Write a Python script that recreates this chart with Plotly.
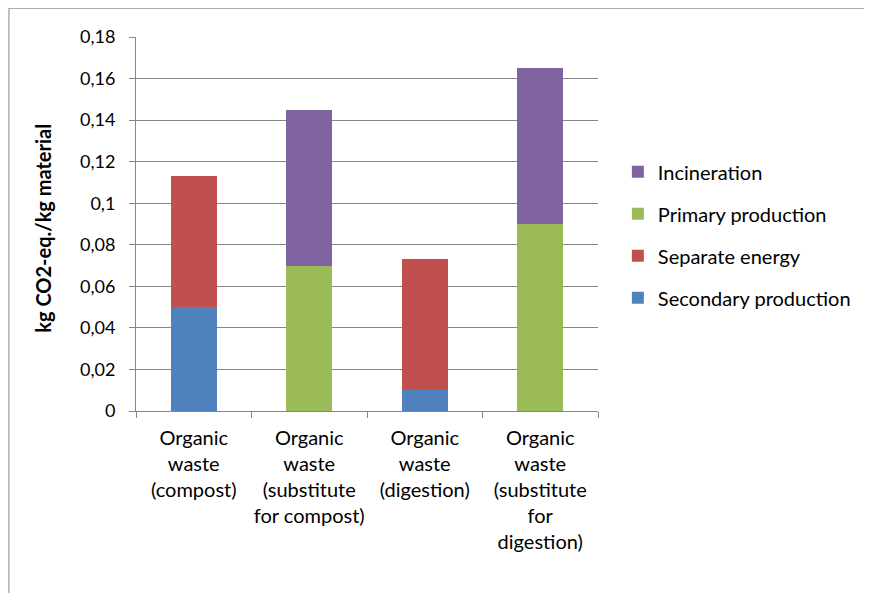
import plotly.graph_objects as go

categories = [
    "Organic<br>waste<br>(compost)",
    "Organic<br>waste<br>(substitute<br>for compost)",
    "Organic<br>waste<br>(digestion)",
    "Organic<br>waste<br>(substitute<br>for<br>digestion)",
]
secondary_production = [0.05, 0, 0.01, 0]
separate_energy = [0.063, 0, 0.063, 0]
primary_production = [0, 0.07, 0, 0.09]
incineration = [0, 0.075, 0, 0.075]

series = [
    ("Secondary production", secondary_production, "#4F81BD"),
    ("Separate energy", separate_energy, "#C0504D"),
    ("Primary production", primary_production, "#9BBB59"),
    ("Incineration", incineration, "#8064A2"),
]

FONT = "Lato"
fig = go.Figure()
for i, (name, vals, col) in enumerate(series):
    fig.add_trace(go.Bar(
        x=categories, y=vals, name=name, marker_color=col,
        marker_line_width=0, width=0.40, legendgroup=f"g{i}",
        legendrank=100 - i,
    ))

fig.update_layout(
    barmode="stack",
    width=864, height=585,
    margin=dict(l=128, r=274, t=29, b=182),
    paper_bgcolor="white", plot_bgcolor="white",
    separators=", ",
    font=dict(family=FONT, size=18, color="#000000"),
    legend=dict(
        x=1.043, y=0.471, xanchor="left", yanchor="middle",
        tracegroupgap=13,
        font=dict(family=FONT, size=20, color="#000000"),
        itemwidth=30,
    ),
    xaxis=dict(
        showline=True, linecolor="#868686", linewidth=1,
        ticks="outside", ticklen=6, tickcolor="#868686",
        tickson="boundaries", showgrid=False, tickangle=0,
        tickfont=dict(family=FONT, size=20),
        ticklabelstandoff=9,
    ),
    yaxis=dict(
        range=[0, 0.18], dtick=0.02, tick0=0,
        showline=True, linecolor="#868686", linewidth=1,
        ticks="outside", ticklen=6, tickcolor="#868686",
        showgrid=True, gridcolor="#868686", gridwidth=1,
        zeroline=False,
        tickfont=dict(family=FONT, size=18),
        ticklabelstandoff=10,
    ),
    shapes=[dict(
        type="rect", xref="paper", yref="paper",
        x0=-0.275, x1=1.7, y0=-0.7, y1=1.077,
        line=dict(color="#868686", width=1), fillcolor="rgba(0,0,0,0)",
        layer="below",
    )],
    annotations=[dict(
        text="<b>kg CO2-eq./kg material</b>", textangle=-90,
        xref="paper", yref="paper", x=-0.2, y=0.489,
        xanchor="center", yanchor="middle", showarrow=False,
        font=dict(family=FONT, size=20, color="#000000"),
    )],
)

fig.write_html("out.html")
